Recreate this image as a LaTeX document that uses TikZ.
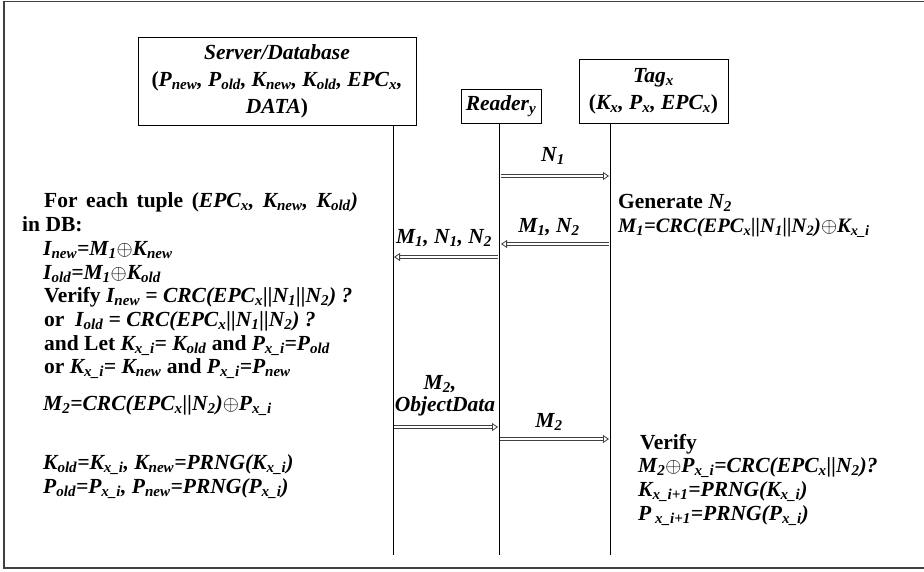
\documentclass[tikz,border=0pt]{standalone}
\usepackage{fontspec}
\setmainfont{Liberation Serif}
\usetikzlibrary{arrows.meta}
\newcommand\ssb[1]{\textsubscript{#1}}
\newcommand\xor{$\oplus$}
\tikzset{
  every node/.style={font=\fontsize{21.5}{27}\selectfont\bfseries\itshape},
  box/.style={draw, line width=0.8pt, align=center, inner sep=0pt},
  txt/.style={anchor=base west, inner sep=0pt},
  lbl/.style={anchor=base, inner sep=0pt},
  life/.style={line width=0.8pt},
  msg/.style={draw=black!75, line width=0.9pt, double, double distance=1.5pt,
    -{Triangle[open, length=6pt, width=8pt, line width=0.8pt]}},
}
\begin{document}
\begin{tikzpicture}[x=1pt,y=-1pt]
\useasboundingbox (0,0) rectangle (924,571);
% outer frame
\draw[line width=1.2pt, black!75] (925,1.5) -- (4,1.5) -- (4,568) -- (925,568);
% participants
\node[box, minimum width=278pt, minimum height=88pt] (srv) at (277,81)
  {Server/Database\\\textup{(}P\ssb{new}, P\ssb{old}, K\ssb{new}, K\ssb{old}, EPC\ssb{x},\\DATA\textup{)}};
\node[box, minimum width=80pt, minimum height=34pt] (rdr) at (501,106) {Reader\ssb{y}};
\node[box, minimum width=149pt, minimum height=64pt] (tag) at (653.5,91)
  {Tag\ssb{x}\\\textup{(}K\ssb{x}, P\ssb{x}, EPC\ssb{x}\textup{)}};
% lifelines
\coordinate (srvT) at (393,125);
\coordinate (srvB) at (393,555);
\coordinate (rdrT) at (499,123);
\coordinate (rdrB) at (499,555);
\coordinate (tagT) at (610,123);
\coordinate (tagB) at (610,555);
\draw[life] (srvT) -- (srvB);
\draw[life] (rdrT) -- (rdrB);
\draw[life] (tagT) -- (tagB);
% message end points
\coordinate (r1) at (501,176);  \coordinate (t1) at (609,176);
\coordinate (t2) at (609,244);  \coordinate (r2) at (501,244);
\coordinate (r3) at (498,257);  \coordinate (s3) at (394,257);
\coordinate (s4) at (394,427);  \coordinate (r4) at (498,427);
\coordinate (r5) at (500,439);  \coordinate (t5) at (609,439);
\draw[msg] (r1) -- (t1);
\draw[msg] (t2) -- (r2);
\draw[msg] (r3) -- (s3);
\draw[msg] (s4) -- (r4);
\draw[msg] (r5) -- (t5);
% message labels
\node[lbl] (m1) at (553,161) {N\ssb{1}};
\node[lbl] (m2) at (549,232) {M\ssb{1}, N\ssb{2}};
\node[lbl] (m3) at (444,243) {M\ssb{1}, N\ssb{1}, N\ssb{2}};
\node[lbl] (m4a) at (440,389) {M\ssb{2},};
\node[lbl] (m4b) at (445,411) {ObjectData};
\node[lbl] (m5) at (549,427) {M\ssb{2}};
% server side computations
\node[txt] (l1) at (44,207) {\spaceskip=8.6pt\relax\textup{For each tuple (}EPC\ssb{x}, K\ssb{new}, K\ssb{old})};
\node[txt] (l2) at (22,231) {\textup{in DB:}};
\node[txt] (l3) at (43,255) {I\ssb{new}=M\ssb{1}\xor K\ssb{new}};
\node[txt] (l4) at (43,279) {I\ssb{old}=M\ssb{1}\xor K\ssb{old}};
\node[txt] (l5) at (44,302) {\textup{Verify} I\ssb{new} = CRC(EPC\ssb{x}||N\ssb{1}||N\ssb{2}) ?};
\node[txt] (l6) at (44,326) {\textup{or}\ \ I\ssb{old} = CRC(EPC\ssb{x}||N\ssb{1}||N\ssb{2}) ?};
\node[txt] (l7) at (44,350) {\textup{and Let} K\ssb{x\_i}= K\ssb{old} \textup{and} P\ssb{x\_i}=P\ssb{old}};
\node[txt] (l8) at (44,373) {\textup{or} K\ssb{x\_i}= K\ssb{new} \textup{and} P\ssb{x\_i}=P\ssb{new}};
\node[txt] (l9) at (43,410) {M\ssb{2}=CRC(EPC\ssb{x}||N\ssb{2})\xor P\ssb{x\_i}};
\node[txt] (l10) at (43,469) {K\ssb{old}=K\ssb{x\_i}, K\ssb{new}=PRNG(K\ssb{x\_i})};
\node[txt] (l11) at (43,493) {P\ssb{old}=P\ssb{x\_i}, P\ssb{new}=PRNG(P\ssb{x\_i})};
% tag side computations
\node[txt] (g1) at (618,208) {\textup{Generate} N\ssb{2}};
\node[txt, font=\fontsize{20.5}{27}\selectfont\bfseries\itshape] (g2) at (618,232) {M\ssb{1}=CRC(EPC\ssb{x}||N\ssb{1}||N\ssb{2})\xor K\ssb{x\_i}};
\node[txt] (v1) at (640,449) {\textup{Verify}};
\node[txt] (v2) at (638,472) {M\ssb{2}\xor P\ssb{x\_i}=CRC(EPC\ssb{x}||N\ssb{2})?};
\node[txt] (v3) at (638,496) {K\ssb{x\_i+1}=PRNG(K\ssb{x\_i})};
\node[txt] (v4) at (638,520) {P\ssb{\ x\_i+1}=PRNG(P\ssb{x\_i})};
\end{tikzpicture}
\end{document}
